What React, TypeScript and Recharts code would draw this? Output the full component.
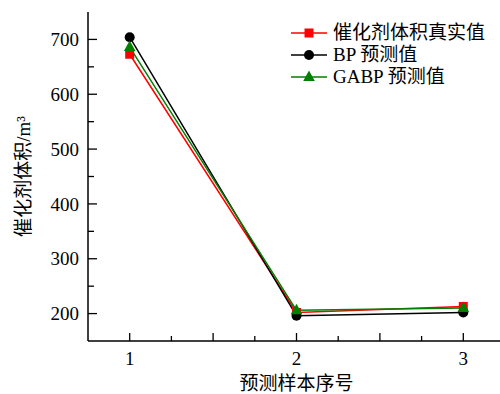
import { LineChart, Line, XAxis, YAxis, Legend } from 'recharts';

// 预测样本序号 and the three series
const samples = [1, 2, 3];
const actualVolume = [673, 202, 213];
const bpPredicted = [704, 196, 202];
const gabpPredicted = [686, 206, 210];

const xTicks = [1, 1.25, 1.5, 1.75, 2, 2.25, 2.5, 2.75, 3];
const yTicks = [200, 250, 300, 350, 400, 450, 500, 550, 600, 650, 700];

const seriesNames = ['催化剂体积真实值', 'BP 预测值', 'GABP 预测值'];
const xTitle = '预测样本序号';
const yTitle = '催化剂体积/m³';

const FONT = '"Liberation Serif", "Noto Sans CJK SC", serif';
const RED = '#ff0000';
const GREEN = '#008000';

const chartData = samples.map((s, i) => ({
  sample: s,
  actual: actualVolume[i],
  bp: bpPredicted[i],
  gabp: gabpPredicted[i],
}));

const Square = ({ cx, cy, fill }: any) => (
  <rect x={cx - 4.5} y={cy - 4.5} width={9} height={9} fill={fill} />
);
const Dot = ({ cx, cy, fill }: any) => <circle cx={cx} cy={cy} r={5} fill={fill} />;
const Tri = ({ cx, cy, fill }: any) => (
  <path d={`M${cx},${cy - 6.5} L${cx + 5.8},${cy + 4} L${cx - 5.8},${cy + 4} Z`} fill={fill} />
);

const series = [
  { key: 'actual', name: seriesNames[0], color: RED, Marker: Square },
  { key: 'bp', name: seriesNames[1], color: '#000000', Marker: Dot },
  { key: 'gabp', name: seriesNames[2], color: GREEN, Marker: Tri },
];

const YTick = ({ x, y, payload }: any) => {
  const major = payload.value % 100 === 0;
  return (
    <g>
      <line x1={x} x2={x + (major ? 9 : 6)} y1={y} y2={y} stroke="#000" strokeWidth={1.3} />
      {major && (
        <text x={x - 9} y={y} dy="0.35em" textAnchor="end" fontSize={19} fontFamily={FONT} fill="#000">
          {payload.value}
        </text>
      )}
    </g>
  );
};

const XTick = ({ x, y, payload }: any) => {
  const v = payload.value;
  const major = Math.abs(v * 2 - Math.round(v * 2)) < 1e-6;
  const labelled = Math.abs(v - Math.round(v)) < 1e-6;
  return (
    <g>
      <line x1={x} x2={x} y1={y} y2={y - (major ? 8 : 5)} stroke="#000" strokeWidth={1.3} />
      {labelled && (
        <text x={x} y={y + 23.5} textAnchor="middle" fontSize={19} fontFamily={FONT} fill="#000">
          {v}
        </text>
      )}
    </g>
  );
};

const XTitle = ({ viewBox }: any) => {
  const vb = viewBox || { x: 88, y: 341, width: 417, height: 53 };
  return (
    <text x={vb.x + vb.width / 2} y={vb.y + 48.5} textAnchor="middle" fontSize={19} fontFamily={FONT} fill="#000">
      {xTitle}
    </text>
  );
};

const YTitle = ({ viewBox }: any) => {
  const vb = viewBox || { x: 0, y: 12, width: 88, height: 329 };
  const cx = vb.x + 30;
  const cy = vb.y + vb.height / 2;
  return (
    <text
      x={cx}
      y={cy}
      textAnchor="middle"
      fontSize={19}
      fontFamily={FONT}
      fill="#000"
      transform={`rotate(-90, ${cx}, ${cy})`}
    >
      {yTitle}
    </text>
  );
};

const LegendBox = () => (
  <div style={{ fontFamily: FONT, fontSize: 19, color: '#000' }}>
    {series.map(({ key, name, color, Marker }) => (
      <div key={key} style={{ display: 'flex', alignItems: 'center', height: 22, whiteSpace: 'nowrap' }}>
        <svg width={40} height={22} style={{ display: 'block' }}>
          <line x1={2} x2={38} y1={11} y2={11} stroke={color} strokeWidth={1.5} />
          <Marker cx={20} cy={11} fill={color} />
        </svg>
        <span style={{ marginLeft: 4, lineHeight: '22px' }}>{name}</span>
      </div>
    ))}
  </div>
);

export default function App() {
  return (
    <div
      style={{
        position: 'absolute',
        left: 0,
        top: 0,
        width: 500,
        height: 394,
        overflow: 'hidden',
        background: '#fff',
        fontFamily: FONT,
      }}
    >
      <LineChart width={505} height={394} data={chartData} margin={{ top: 12, right: 0, bottom: 0, left: 0 }}>
        <XAxis
          dataKey="sample"
          type="number"
          domain={[0.75, 3.25]}
          ticks={xTicks}
          interval={0}
          height={53}
          tickSize={0}
          tickMargin={0}
          tickLine={false}
          tick={<XTick />}
          axisLine={{ stroke: '#000', strokeWidth: 1.5 }}
          allowDataOverflow
          label={<XTitle />}
        />
        <YAxis
          type="number"
          domain={[150, 750]}
          ticks={yTicks}
          interval={0}
          width={88}
          tickSize={0}
          tickMargin={0}
          tickLine={false}
          tick={<YTick />}
          axisLine={{ stroke: '#000', strokeWidth: 1.5 }}
          allowDataOverflow
          label={<YTitle />}
        />
        <Legend
          layout="horizontal"
          align="center"
          verticalAlign="middle"
          wrapperStyle={{ top: 22, left: 289, width: 'auto' }}
          content={() => <LegendBox />}
        />
        {series.map(({ key, name, color, Marker }) => (
          <Line
            key={key}
            type="linear"
            dataKey={key}
            name={name}
            stroke={color}
            strokeWidth={1.5}
            isAnimationActive={false}
            dot={(p: any) => <Marker key={`${key}-${p.index}`} cx={p.cx} cy={p.cy} fill={color} />}
            activeDot={false}
          />
        ))}
      </LineChart>
    </div>
  );
}
